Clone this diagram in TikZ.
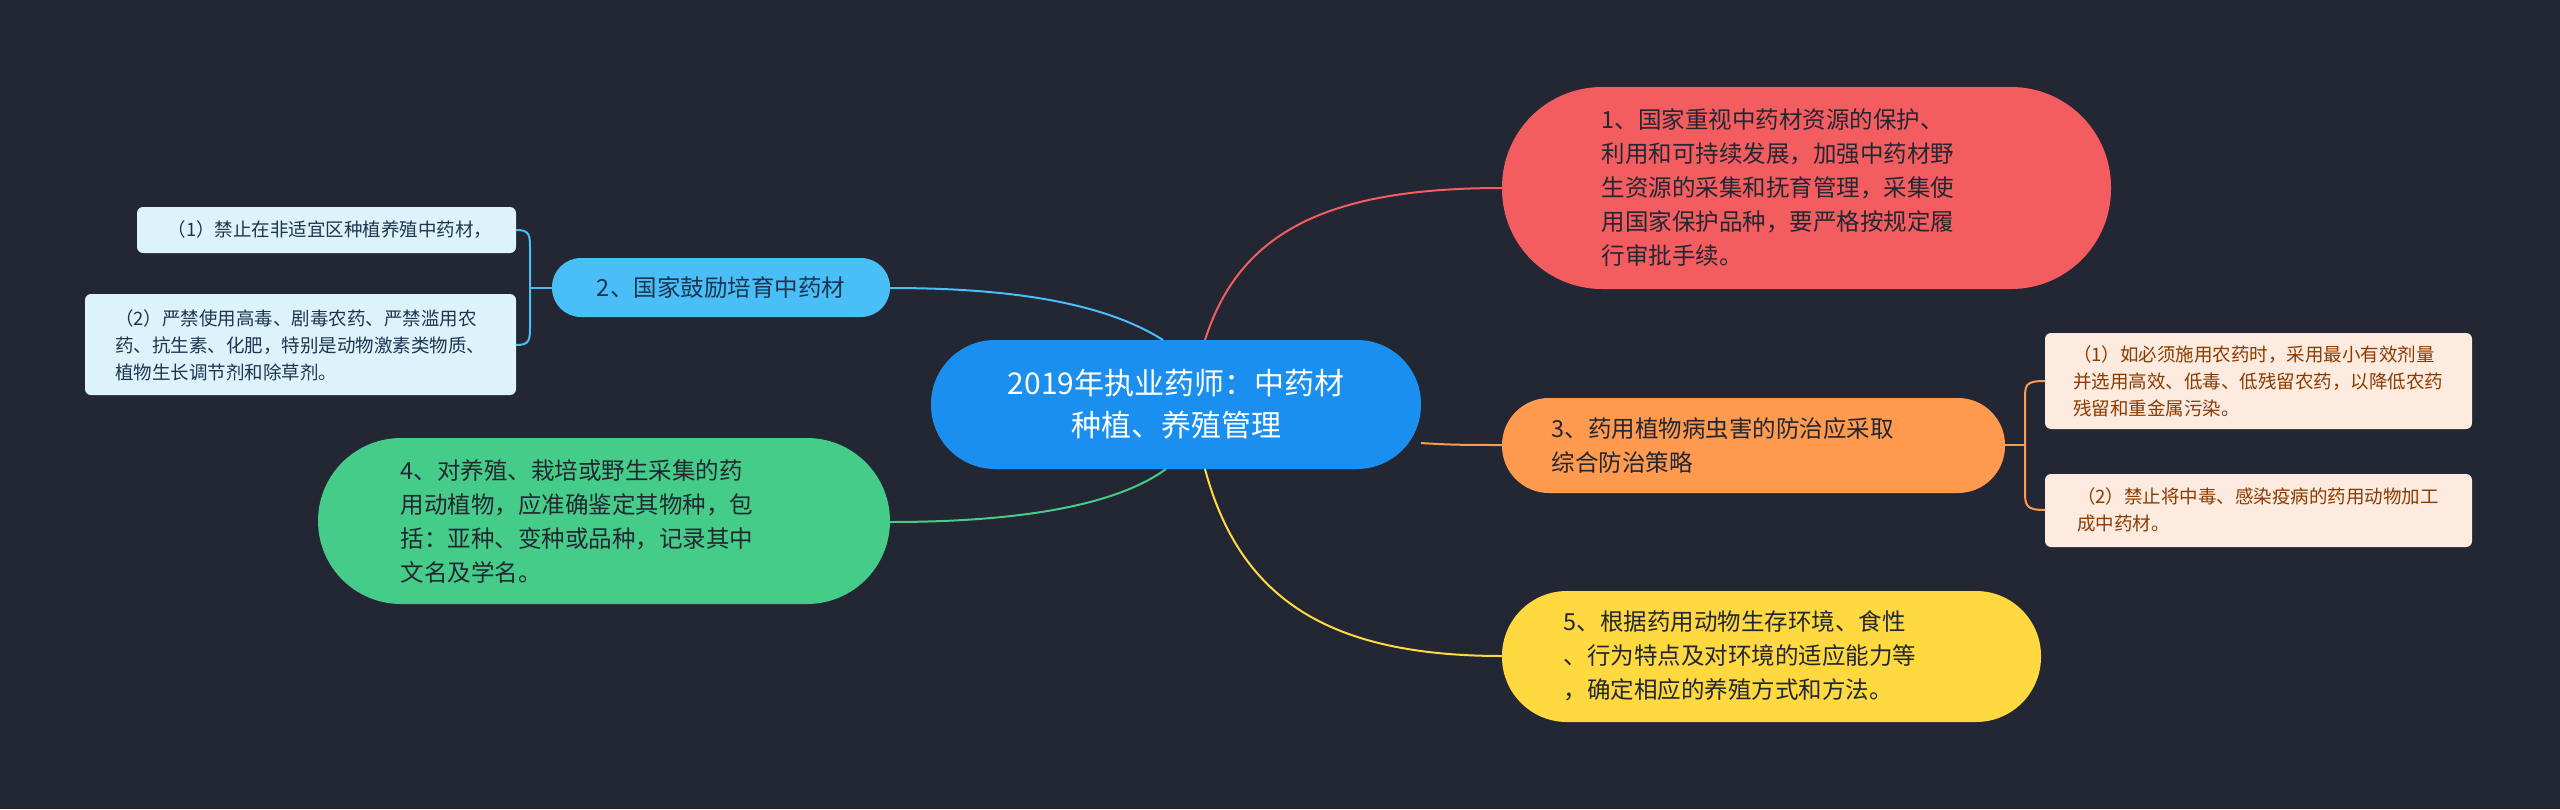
\documentclass[tikz,border=0pt]{standalone}
\usepackage{fontspec}
\setmainfont{Noto Sans CJK SC}
\begin{document}
\begin{tikzpicture}[x=1pt,y=-1pt,
  leaf/.style={draw=none,align=left,font=\fontsize{18.5}{27}\selectfont},
  big/.style={align=left,font=\fontsize{23.5}{34}\selectfont,anchor=west},
  conn/.style={line width=2pt}]
\definecolor{bg}{HTML}{222733}
\definecolor{cRoot}{HTML}{1B8FEF}
\definecolor{cRed}{HTML}{F45D5F}
\definecolor{cSky}{HTML}{49BEF7}
\definecolor{cOr}{HTML}{FF9A4F}
\definecolor{cGr}{HTML}{46CC89}
\definecolor{cYe}{HTML}{FFD93F}
\definecolor{lBlue}{HTML}{DDF3FC}
\definecolor{lOr}{HTML}{FDEBDF}
\definecolor{tNavy}{HTML}{1C3550}
\definecolor{tBrown}{HTML}{8B3A00}
\fill[bg] (0,0) rectangle (2560,809);
\useasboundingbox (0,0) rectangle (2560,809);
\fill[cRoot,rounded corners=64] (931,340) rectangle (1421,469);
\node[text=white,align=center,font=\fontsize{30}{42}\selectfont] (root) at (1176,404) {2019年执业药师：中药材\\种植、养殖管理};
\coordinate (rootTR) at (1205,340);\coordinate (rootTL) at (1163,340);
\coordinate (rootBL) at (1166,469);\coordinate (rootBR) at (1205,469);
\coordinate (rootR) at (1421,443);

\fill[cRed,rounded corners=100] (1502,87) rectangle (2111,289);
\node[big,text=bg] (n1) at (1598,188) {1、国家重视中药材资源的保护、\\利用和可持续发展，加强中药材野\\生资源的采集和抚育管理，采集使\\用国家保护品种，要严格按规定履\\行审批手续。};
\coordinate (n1L) at (1502,188);

\fill[cSky,rounded corners=29] (552,258) rectangle (890,317);
\node[text=tNavy,font=\fontsize{23.5}{30}\selectfont] (n2) at (721,288) {2、国家鼓励培育中药材};
\coordinate (n2L) at (552,288);\coordinate (n2R) at (890,288);

\fill[lBlue,rounded corners=6] (137,207) rectangle (516,253);
\node[leaf,text=tNavy] (l2a) at (330,230) {（1）禁止在非适宜区种植养殖中药材，};
\coordinate (l2aR) at (516,230);
\fill[lBlue,rounded corners=6] (85,294) rectangle (516,395);
\node[leaf,text=tNavy] (l2b) at (300,345) {（2）严禁使用高毒、剧毒农药、严禁滥用农\\药、抗生素、化肥，特别是动物激素类物质、\\植物生长调节剂和除草剂。};
\coordinate (l2bR) at (516,345);

\fill[cOr,rounded corners=47] (1502,398) rectangle (2005,493);
\node[big,text=bg] (n3) at (1548,445) {3、药用植物病虫害的防治应采取\\综合防治策略};
\coordinate (n3L) at (1502,445);\coordinate (n3R) at (2005,445);

\fill[lOr,rounded corners=6] (2045,333) rectangle (2472,429);
\node[leaf,text=tBrown] (l3a) at (2258,381) {（1）如必须施用农药时，采用最小有效剂量\\并选用高效、低毒、低残留农药，以降低农药\\残留和重金属污染。};
\coordinate (l3aL) at (2045,381);
\fill[lOr,rounded corners=6] (2045,474) rectangle (2472,547);
\node[leaf,text=tBrown] (l3b) at (2258,510) {（2）禁止将中毒、感染疫病的药用动物加工\\成中药材。};
\coordinate (l3bL) at (2045,510);

\fill[cGr,rounded corners=83] (318,438) rectangle (890,604);
\node[big,text=bg] (n4) at (397,521) {4、对养殖、栽培或野生采集的药\\用动植物，应准确鉴定其物种，包\\括：亚种、变种或品种，记录其中\\文名及学名。};
\coordinate (n4R) at (890,522);

\fill[cYe,rounded corners=65] (1502,591) rectangle (2041,722);
\node[big,text=bg] (n5) at (1560,656) {5、根据药用动物生存环境、食性\\、行为特点及对环境的适应能力等\\，确定相应的养殖方式和方法。};
\coordinate (n5L) at (1502,656);

\draw[conn,cRed] (rootTR) .. controls (1240,230) and (1330,188) .. (n1L);
\draw[conn,cSky] (rootTL) .. controls (1100,300) and (1000,288) .. (n2R);
\draw[conn,cGr] (rootBL) .. controls (1110,510) and (1000,522) .. (n4R);
\draw[conn,cOr] (rootR) .. controls (1450,445) and (1470,445) .. (n3L);
\draw[conn,cYe] (rootBR) .. controls (1240,600) and (1330,656) .. (n5L);
\draw[conn,cSky] (n2L) -- (530,288);
\draw[conn,cSky] (l2aR) .. controls (530,230) and (530,235) .. (530,250) -- (530,325) .. controls (530,340) and (530,345) .. (l2bR);
\draw[conn,cOr] (n3R) -- (2025,445);
\draw[conn,cOr] (l3aL) .. controls (2025,381) and (2025,385) .. (2025,400) -- (2025,490) .. controls (2025,505) and (2025,510) .. (l3bL);
\end{tikzpicture}
\end{document}
